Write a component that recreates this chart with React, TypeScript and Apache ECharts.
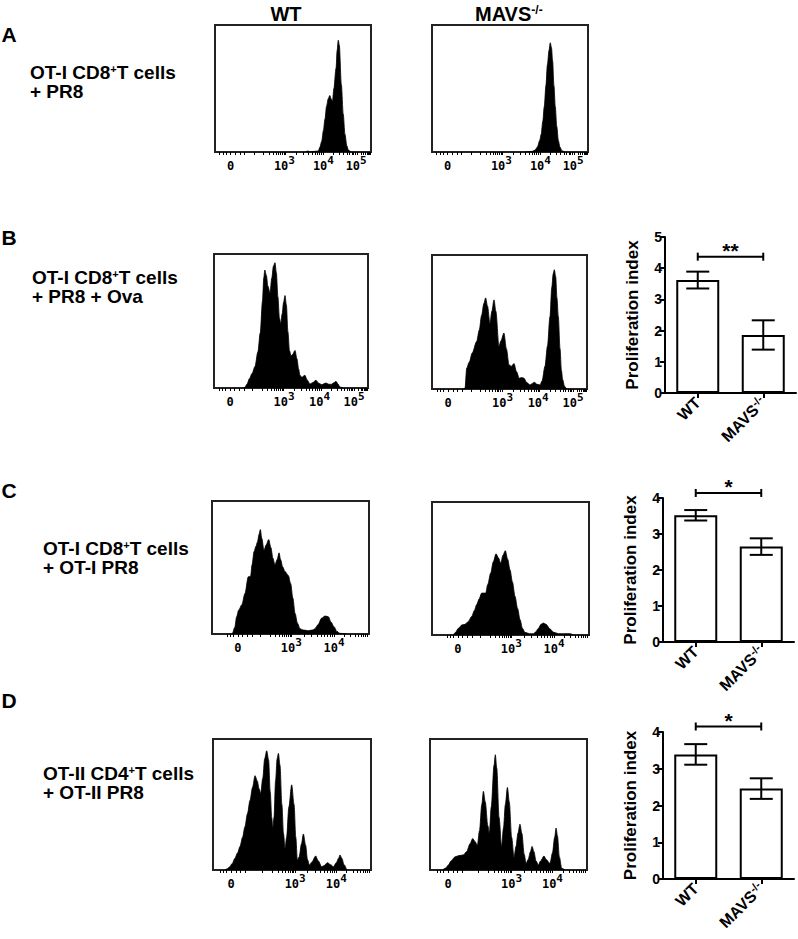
import React, { useEffect, useRef } from 'react';
import * as echarts from 'echarts';

const FONT = '"Liberation Sans", Arial, Helvetica, sans-serif';
const MONO = '"DejaVu Sans Mono", monospace';

// ---------- histogram data: [position on axis (0-100), count (% of box height)] ----------
const histA_WT = [[58,0],[59.5,0.8],[61,0],[63,0.4],[66.2,0.8],[67.3,4],[68.4,8.5],[69.5,17],[70.5,26],[71.5,36],[72.6,42],[73.6,44.5],[74.4,42],[75.3,40],[76.2,50],[77.6,66],[78.3,80],[79,88],[79.7,84],[81,53],[82.2,30],[83.3,14],[84.5,5],[85.5,1.5],[87,0]];
const histA_MAVS = [[60,0],[64.3,0.5],[66,1.5],[67.6,4],[69,9],[70,14],[71,24],[72,36],[73,52],[74,69],[75,80],[75.8,86],[76.6,82],[77.3,72],[78.2,52],[79,36],[80,20],[81,9],[82,4],[83.3,1],[85,0]];
const histB_WT = [[19,0],[20,0.5],[21.5,3],[23,7],[24.8,11],[26.6,16],[28.5,27],[30,41],[31.5,65],[32.3,82],[33,88],[34,84],[35,76],[36.4,71],[37.5,82],[38.6,91],[39.6,93.5],[40.5,86],[41.5,68],[42.5,52],[43.3,48],[44.2,55],[45.2,64],[46.1,69],[47,62],[48,42],[49,28],[50,24],[51,25],[52.6,28],[53.8,22],[55,14],[55.8,9.5],[57,8],[59,9.5],[60.5,6],[62.3,3],[64,4],[66.2,5.7],[68,3.5],[70,2.5],[72.7,3.7],[74.5,2.8],[76,2.7],[78,4],[79.2,5],[80.5,3],[81.8,0.7],[84,0]];
const histB_MAVS = [[20,0],[21.3,0.5],[22.4,15.6],[24,20],[26,27],[28.8,35.5],[30.5,44],[32,55],[33.5,64],[34.6,68],[35.8,62],[37.4,49],[38.6,58],[40,66.5],[41.2,58],[43.2,32],[44.5,36],[46.4,41.7],[48,30],[49.7,18],[51.3,17],[52.9,19],[54.5,13],[56.3,8],[57.8,8.5],[59.4,8],[61,5],[63.2,3],[64.6,4],[66,5],[67.8,3.5],[69.7,3],[71,6],[72.9,17],[74.5,32],[76.1,54],[77.3,76],[78.2,86],[78.9,89],[79.8,84],[80.6,68],[81.5,54],[82.6,30],[83.5,14],[84.3,7],[85.5,2],[86.8,0]];
const histC_WT = [[12.5,0],[13,0.5],[14.5,5],[15.7,13],[17,18],[19,22],[21,30.5],[23.1,43],[24.6,43.5],[25.5,52],[26.8,62],[28,66],[28.9,69],[30,75],[30.8,78.5],[31.7,72],[33.1,63],[34.5,67],[36.1,71],[37.5,65],[38.8,57],[40.1,52],[41.5,56],[42.7,61],[43.7,56],[45,50.5],[46.5,47],[48.6,44],[50.1,38],[51.5,27],[52.9,15.5],[54.5,8],[56,4],[58,3],[61.4,2.5],[64,3],[65.6,4],[67.5,7],[69.9,12],[72,13.5],[74.1,13],[75.8,9],[77.7,5.5],[79.5,2],[81.5,0.5],[85.8,0]];
const histC_MAVS = [[13.6,0],[15,2],[16.8,5],[19,7.5],[21,8],[23,10],[25.3,14],[27,18.5],[28.5,23],[30,27],[31.6,31.5],[34.2,31.5],[35.5,38],[37.4,46.6],[39,55],[40.8,61],[42.3,58],[43.8,54],[45.2,60],[46.7,63.4],[48.2,57],[49.7,49],[51.2,40],[52.9,29],[54.5,20],[56.1,11.5],[57.6,5],[59.2,2],[62,1],[64.6,1],[66.2,2.5],[67.8,5],[69.4,8],[71,9],[72.6,8],[75.2,4.5],[77.5,2],[80.5,1],[84,1],[88,1],[90,0]];
const histD_WT = [[7.6,0],[9,1],[10.6,2.5],[12.2,5],[13.9,9],[15.5,13],[17.1,18],[18.7,25],[20.2,33],[21.8,43],[23.4,53],[25,63],[26.6,72],[28,68],[29.2,62],[30.2,58.5],[31.5,70],[32.7,85],[34,91],[35.2,84],[36.2,60],[37.2,40],[37.8,32],[38.6,40],[39.6,68],[40.6,85],[41.4,89],[42.4,80],[43.6,50],[44.6,28],[45.6,16.5],[46.6,25],[48,48],[49.8,65],[51.3,50],[52.4,25],[53.4,7.6],[54.5,10],[56,20],[57.2,27.5],[58.6,19],[59.8,8],[61,3.8],[62.5,6],[65,10.7],[66.6,7],[68.8,2.5],[70.5,3.5],[72.4,5.6],[74.5,4],[76.2,2.5],[78,5.5],[79.5,9],[80.4,11.5],[81.5,9],[83,4],[84.6,0]];
const histD_MAVS = [[8,0],[10,1.5],[11.7,3.8],[13.5,7],[15.9,10],[18.5,11],[21.2,11.5],[23.3,14],[25.5,20],[27.2,24],[28.5,22],[30.2,19],[31.5,30],[33,50],[34,60],[35.2,52],[36.8,34],[37.8,28],[39,48],[40.8,80],[41.6,88],[42.5,78],[44,40],[45.6,18],[46.8,32],[48,50],[49.3,63],[50.5,52],[52,25],[53.5,10],[54.8,18],[56,28],[57.3,35],[58.5,28],[60,12],[61.2,5],[62.5,8],[64,14],[65,18],[66.2,14],[67.5,7],[69,3.8],[70.5,7],[72.6,10.7],[74,8],[76.4,5],[78,13],[79.4,25],[80.3,32],[81.2,26],[82.4,10],[83.9,1.3],[86,0]];

// ---------- histogram axis labels ----------
const histTickLabels = ['0', '10^3', '10^4', '10^5'];
const labelPosA = [10, 44.5, 69.5, 90.5];
const labelPosB = [10.4, 45.5, 68.5, 91];
const labelPosC = [16.5, 50.5, 77.7];
const labelPosD = [11.5, 52, 78];
// decade positions used for minor ticks (10^2 .. 10^5 region)
const decadesAB = [25, 45, 69.5, 91, 100];
const decadesC = [31, 50.5, 77.7, 100];
const decadesD = [31, 52, 78, 100];

// ---------- bar chart data ----------
const barCategories = ['WT', 'MAVS-/-'];
const barB = [3.62, 1.86];
const errB = [0.27, 0.47];
const barC = [3.52, 2.65];
const errC = [0.145, 0.23];
const barD = [3.39, 2.46];
const errD = [0.28, 0.28];
const sigLevel = [4.37, 4.14, 4.15];
const sigStars = ['**', '*', '*'];
const barMax = [5, 4, 4];

const rowTitles = [
  ['OT-I CD8', '+', 'T cells', '+ PR8'],
  ['OT-I CD8', '+', 'T cells', '+ PR8 + Ova'],
  ['OT-I CD8', '+', 'T cells', '+ OT-I PR8'],
  ['OT-II CD4', '+', 'T cells', '+ OT-II PR8'],
];
const panelLetters = ['A', 'B', 'C', 'D'];

function ticksFor(zero: number, dec: number[]) {
  const out: number[] = [zero - 7, zero - 5, zero - 3, zero, zero + 3, zero + 6, zero + 9];
  for (let i = 0; i < dec.length - 1; i++) {
    for (let k = 1; k < 10; k++) {
      const v = dec[i] + (dec[i + 1] - dec[i]) * Math.log10(k);
      if (v < 100) out.push(v);
    }
  }
  return out.filter((v) => v > 0 && v < 100);
}

export default function App() {
  const ref = useRef<HTMLDivElement>(null);
  useEffect(() => {
    const chart = echarts.init(ref.current!, null, { renderer: 'svg' });

    const grids: any[] = [];
    const xAxes: any[] = [];
    const yAxes: any[] = [];
    const series: any[] = [];

    const histRich = {
      b: { fontFamily: MONO, fontWeight: 'bold', fontSize: 12, lineHeight: 22, color: '#000' },
      s: { fontFamily: MONO, fontWeight: 'bold', fontSize: 11, lineHeight: 8, verticalAlign: 'top', color: '#000' },
    };

    const hists = [
      { data: histA_WT, left: 215, top: 25, width: 156, height: 127, lp: labelPosA, dec: decadesAB },
      { data: histA_MAVS, left: 432, top: 25, width: 156, height: 127, lp: labelPosA, dec: decadesAB },
      { data: histB_WT, left: 214, top: 254, width: 154, height: 134, lp: labelPosB, dec: decadesAB },
      { data: histB_MAVS, left: 432, top: 255, width: 155, height: 134, lp: labelPosB, dec: decadesAB },
      { data: histC_WT, left: 212, top: 501, width: 157, height: 133, lp: labelPosC, dec: decadesC },
      { data: histC_MAVS, left: 432, top: 502, width: 157, height: 133, lp: labelPosC, dec: decadesC },
      { data: histD_WT, left: 213, top: 739, width: 158, height: 131, lp: labelPosD, dec: decadesD },
      { data: histD_MAVS, left: 430, top: 739, width: 157, height: 131, lp: labelPosD, dec: decadesD },
    ];

    hists.forEach((h, i) => {
      grids.push({ left: h.left, top: h.top, width: h.width, height: h.height, show: true, borderColor: '#222', borderWidth: 2, backgroundColor: 'transparent' });
      const lp = h.lp;
      xAxes.push({
        gridIndex: i, type: 'value', min: 0, max: 100,
        axisLine: { show: false }, splitLine: { show: false },
        axisTick: { show: true, customValues: ticksFor(lp[0], h.dec), length: 3, lineStyle: { color: '#000', width: 1 } },
        axisLabel: {
          show: true, customValues: lp, margin: 3,
          formatter: (v: number) => {
            const idx = lp.findIndex((p) => Math.abs(p - v) < 1e-6);
            const t = histTickLabels[idx] ?? '';
            if (t === '0') return '{b|0}';
            const [base, exp] = t.split('^');
            return `{b|${base}}{s|${exp}}`;
          },
          rich: histRich,
        },
      });
      yAxes.push({ gridIndex: i, type: 'value', min: 0, max: 100, show: false });
      series.push({
        type: 'line', xAxisIndex: i, yAxisIndex: i, data: h.data,
        smooth: 0.3, smoothMonotone: 'x', showSymbol: false, silent: true,
        lineStyle: { color: '#000', width: 0.8 },
        areaStyle: { color: '#000', opacity: 1 },
        markPoint: {
          symbol: 'rect', symbolSize: [5, 4], silent: true,
          itemStyle: { color: '#000' }, label: { show: false },
          data: [{ coord: [lp[0], -2.4] }],
        },
      });
    });

    const bars = [
      { vals: barB, errs: errB, left: 665, top: 237, height: 156 },
      { vals: barC, errs: errC, left: 663, top: 498, height: 144 },
      { vals: barD, errs: errD, left: 663, top: 732, height: 147 },
    ];

    const catRich = {
      a: { fontFamily: FONT, fontWeight: 'bold', fontSize: 16, lineHeight: 19, color: '#000' },
      s: { fontFamily: FONT, fontWeight: 'bold', fontSize: 11, lineHeight: 8, verticalAlign: 'top', color: '#000' },
    };

    bars.forEach((b, j) => {
      const gi = hists.length + j;
      grids.push({ left: b.left, top: b.top, width: 131, height: b.height });
      xAxes.push({
        gridIndex: gi, type: 'category', data: barCategories,
        axisLine: { show: true, lineStyle: { color: '#000', width: 2 } },
        axisTick: { show: true, alignWithLabel: true, length: 5, lineStyle: { color: '#000', width: 2 } },
        axisLabel: {
          rotate: 45, margin: 7, interval: 0,
          formatter: (v: string) => {
            const m = v.match(/^(.*?)(-\/-)?$/);
            return m && m[2] ? `{a|${m[1]}}{s|${m[2]}}` : `{a|${v}}`;
          },
          rich: catRich,
        },
      });
      yAxes.push({
        gridIndex: gi, type: 'value', min: 0, max: barMax[j], interval: 1,
        axisLine: { show: true, lineStyle: { color: '#000', width: 2 } },
        axisTick: { show: true, length: 5, lineStyle: { color: '#000', width: 2 } },
        splitLine: { show: false },
        axisLabel: { color: '#000', fontWeight: 'bold', fontSize: 14, fontFamily: FONT, margin: 3 },
        name: 'Proliferation index', nameLocation: 'middle', nameRotate: 90, nameGap: 24,
        nameTextStyle: { color: '#000', fontWeight: 'bold', fontSize: 17, fontFamily: FONT },
      });
      series.push({
        type: 'bar', xAxisIndex: gi, yAxisIndex: gi, data: b.vals, barWidth: 43, silent: true,
        itemStyle: { color: '#fff', borderColor: '#000', borderWidth: 2 },
      });
      series.push({
        type: 'custom', xAxisIndex: gi, yAxisIndex: gi, silent: true, z: 5,
        data: b.vals.map((v, k) => [k, v - b.errs[k], v + b.errs[k]]),
        encode: { x: 0, y: [1, 2] },
        renderItem: (params: any, api: any) => {
          const lo = api.coord([api.value(0), api.value(1)]);
          const hi = api.coord([api.value(0), api.value(2)]);
          const hw = 11.5;
          const st = { stroke: '#000', lineWidth: 2 };
          return {
            type: 'group',
            children: [
              { type: 'line', shape: { x1: hi[0], y1: hi[1], x2: lo[0], y2: lo[1] }, style: st },
              { type: 'line', shape: { x1: hi[0] - hw, y1: hi[1], x2: hi[0] + hw, y2: hi[1] }, style: st },
              { type: 'line', shape: { x1: lo[0] - hw, y1: lo[1], x2: lo[0] + hw, y2: lo[1] }, style: st },
            ],
          };
        },
      });
      series.push({
        type: 'custom', xAxisIndex: gi, yAxisIndex: gi, silent: true, z: 5,
        data: [[0, 1, sigLevel[j]]],
        encode: { x: [0, 1], y: 2 },
        renderItem: (params: any, api: any) => {
          const p0 = api.coord([api.value(0), api.value(2)]);
          const p1 = api.coord([api.value(1), api.value(2)]);
          const st = { stroke: '#000', lineWidth: 2 };
          return {
            type: 'group',
            children: [
              { type: 'line', shape: { x1: p0[0], y1: p0[1], x2: p1[0], y2: p1[1] }, style: st },
              { type: 'line', shape: { x1: p0[0], y1: p0[1] - 4, x2: p0[0], y2: p0[1] + 4 }, style: st },
              { type: 'line', shape: { x1: p1[0], y1: p1[1] - 4, x2: p1[0], y2: p1[1] + 4 }, style: st },
              {
                type: 'text', x: (p0[0] + p1[0]) / 2, y: p0[1] - 6,
                style: { text: sigStars[j], fontFamily: FONT, fontWeight: 'bold', fontSize: 21, fill: '#000', align: 'center', verticalAlign: 'middle' },
              },
            ],
          };
        },
      });
    });

    const richTxt = {
      a: { fontFamily: FONT, fontWeight: 'bold', fontSize: 19, lineHeight: 19, fill: '#000', color: '#000' },
      s: { fontFamily: FONT, fontWeight: 'bold', fontSize: 11, lineHeight: 7, verticalAlign: 'top', fill: '#000', color: '#000' },
    };
    const letterPos = [[9, 34], [9, 237], [9, 490], [9, 700]];
    const textPos = [[30, 63], [32, 268], [43, 539], [43, 764]];
    const graphics: any[] = [];
    panelLetters.forEach((L, r) => {
      graphics.push({
        type: 'text', x: letterPos[r][0], y: letterPos[r][1],
        style: { text: L, fontFamily: FONT, fontWeight: 'bold', fontSize: 21, fill: '#000', align: 'center', verticalAlign: 'middle' },
      });
      const t = rowTitles[r];
      graphics.push({
        type: 'text', x: textPos[r][0], y: textPos[r][1],
        style: { text: `{a|${t[0]}}{s|${t[1]}}{a|${t[2]}}\n{a|${t[3]}}`, rich: richTxt, align: 'left', verticalAlign: 'top' },
      });
    });
    graphics.push({
      type: 'text', x: 286, y: 14,
      style: { text: '{a|WT}', rich: { a: { ...richTxt.a, fontSize: 20, lineHeight: 20 } }, align: 'center', verticalAlign: 'middle' },
    });
    graphics.push({
      type: 'text', x: 475, y: 14,
      style: { text: '{a|MAVS}{s|-/-}', rich: { a: { ...richTxt.a, fontSize: 20, lineHeight: 20 }, s: { ...richTxt.s, fontSize: 12, lineHeight: 8 } }, align: 'left', verticalAlign: 'middle' },
    });

    chart.setOption({
      animation: false,
      backgroundColor: '#fff',
      grid: grids,
      xAxis: xAxes,
      yAxis: yAxes,
      series,
      graphic: graphics,
    });
    return () => chart.dispose();
  }, []);
  return <div ref={ref} style={{ position: 'absolute', left: 0, top: 0, width: 798, height: 939, background: '#fff' }} />;
}
